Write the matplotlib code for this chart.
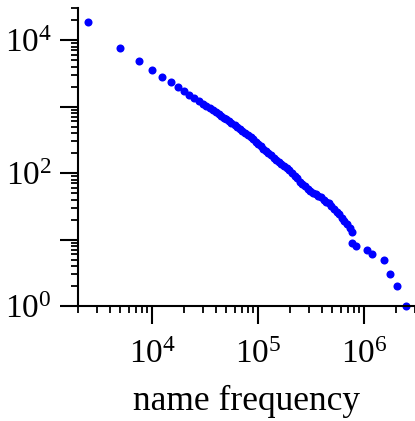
import math
import matplotlib
matplotlib.use("Agg")
import matplotlib.pyplot as plt
from matplotlib.ticker import LogLocator, FuncFormatter, NullFormatter

plt.rcParams['font.family'] = ['Liberation Serif', 'DejaVu Serif']
plt.rcParams['mathtext.fontset'] = 'custom'
plt.rcParams['mathtext.rm'] = 'Liberation Serif'

# frequency of a name vs. number of names at least that frequent
name_freq = [2500, 5000, 7500, 10000, 12500, 15000, 17500, 20000,
             22500, 25000, 27500, 30000, 32500, 35000, 37500, 40000,
             42500, 45000, 47500, 50000, 53000, 56000, 60000, 63000,
             67000, 71000, 75000, 80000, 85000, 90000, 95000, 100000,
             106000, 112000, 118000, 125000, 132000, 140000, 148000, 157000,
             166000, 176000, 186000, 197000, 209000, 221000, 234000, 248000,
             262000, 278000, 294000, 311000, 330000, 350000, 370000, 392000,
             415000, 440000, 465000, 492000, 520000, 550000, 580000, 615000,
             650000, 690000, 730000, 770000,
             776000, 841000, 1060000, 1200000, 1540000, 1760000, 2030000, 2490000]
name_count = [18850, 7500, 4830, 3540, 2780, 2340, 1940, 1690,
              1516, 1352, 1222, 1113, 1021, 946, 880, 821,
              769, 725, 686, 646, 605, 569, 525, 497,
              464, 436, 408, 377, 348, 321, 298, 276,
              254, 234, 218, 200, 185, 170, 158, 145,
              135, 126, 118, 111, 101, 91, 83, 74.5,
              69, 63, 58, 54, 51, 48, 46, 43,
              40, 37, 35, 32, 29, 26, 24, 21,
              19, 17, 15, 13,
              9, 8, 7, 6, 5, 3, 2, 1]

fig = plt.figure(figsize=(4.15, 4.21), dpi=100)
ax = fig.add_axes([0.188, 0.273, 0.811, 0.707])

ax.plot(name_freq, name_count, 'o', color='blue', ms=5.8, mec='none', clip_on=False)

ax.set_xscale('log')
ax.set_yscale('log')
ax.set_xlim(2000, 3e6)
ax.set_ylim(1, 3e4)

for side in ('top', 'right'):
    ax.spines[side].set_visible(False)
for side in ('left', 'bottom'):
    ax.spines[side].set_linewidth(1.5)

ax.xaxis.set_major_locator(LogLocator(base=10, numticks=20))
ax.yaxis.set_major_locator(LogLocator(base=10, numticks=20))
ax.xaxis.set_minor_locator(LogLocator(base=10, subs=range(2, 10), numticks=20))
ax.yaxis.set_minor_locator(LogLocator(base=10, subs=range(2, 10), numticks=20))
ax.xaxis.set_minor_formatter(NullFormatter())
ax.yaxis.set_minor_formatter(NullFormatter())


def pow_label(v, pos):
    e = int(round(math.log10(v)))
    return r'$\mathdefault{10^{%d}}$' % e


def even_pow_label(v, pos):
    e = int(round(math.log10(v)))
    return pow_label(v, pos) if e % 2 == 0 else ''


ax.xaxis.set_major_formatter(FuncFormatter(pow_label))
ax.yaxis.set_major_formatter(FuncFormatter(even_pow_label))

ax.tick_params(which='major', length=13, width=1.5, labelsize=24, direction='out')
ax.tick_params(which='minor', length=5, width=1.3, direction='out')
ax.tick_params(axis='x', which='major', pad=11)
ax.tick_params(axis='y', which='major', pad=6)

ax.set_xlabel('name frequency', fontsize=25.5, labelpad=11)

fig.savefig('out.png', dpi=100)
